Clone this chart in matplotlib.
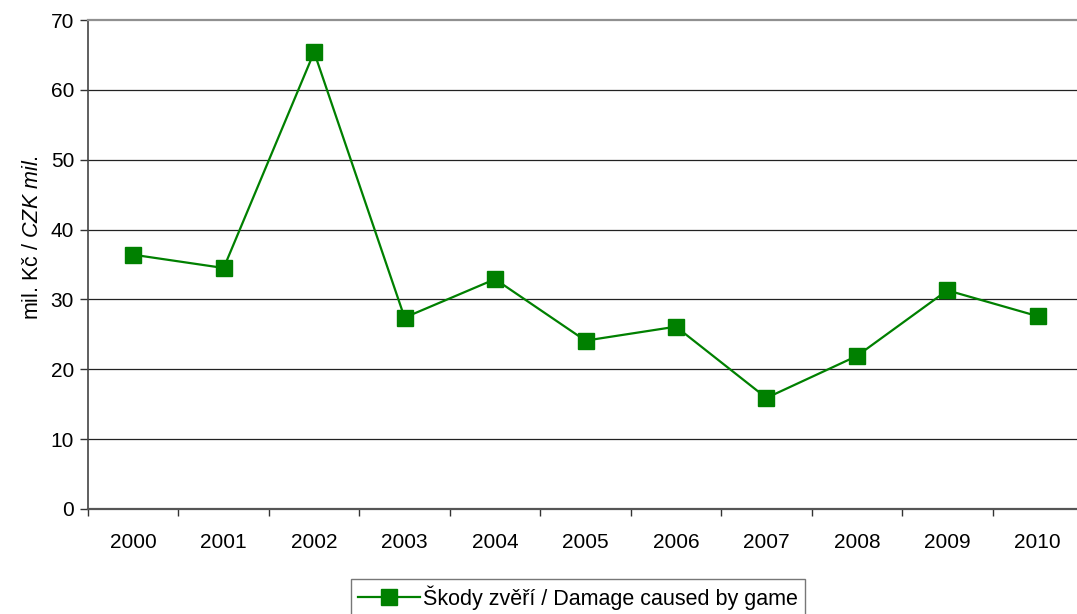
import matplotlib
matplotlib.use("Agg")
import matplotlib.pyplot as plt

plt.rcParams["font.family"] = ["Liberation Sans", "DejaVu Sans"]
plt.rcParams["mathtext.fontset"] = "custom"
plt.rcParams["mathtext.rm"] = "Liberation Sans"
plt.rcParams["mathtext.it"] = "Liberation Sans:italic"

years = ["2000", "2001", "2002", "2003", "2004", "2005",
         "2006", "2007", "2008", "2009", "2010"]
damage = [36.4, 34.5, 65.4, 27.4, 32.9, 24.1, 26.1, 15.9, 21.9, 31.3, 27.6]
yticks = [0, 10, 20, 30, 40, 50, 60, 70]

fig = plt.figure(figsize=(10.77, 6.14), dpi=100)
# plot area runs slightly past the right edge, as in the original
ax = fig.add_axes([88 / 1077, 1 - 509 / 614, 995 / 1077, 489 / 614])

x = list(range(len(years)))
ax.plot(x, damage, color="#008000", linewidth=1.6, marker="s",
        markersize=11.5, markerfacecolor="#008000", markeredgecolor="#008000",
        label="Škody zvěří / Damage caused by game", zorder=3)

ax.set_xlim(-0.5, len(years) - 0.5)
ax.set_ylim(0, 70)
ax.set_yticks(yticks)
ax.set_yticklabels([str(v) for v in yticks], fontsize=15)
ax.set_xticks(x)
ax.set_xticklabels(years, fontsize=15)
ax.set_xticks([i - 0.5 for i in range(len(years) + 1)], minor=True)
ax.tick_params(axis="x", which="major", length=0, pad=17)
ax.tick_params(axis="x", which="minor", length=5, width=1, color="#333333")
ax.tick_params(axis="y", length=6, width=1, color="#333333", pad=4)

for v in yticks[1:-1]:
    ax.axhline(v, color="#222222", linewidth=0.9, zorder=1)

ax.spines["right"].set_visible(False)
ax.spines["top"].set_color("#909090")
ax.spines["top"].set_linewidth(1.6)
ax.spines["left"].set_color("#444444")
ax.spines["left"].set_linewidth(1.2)
ax.spines["bottom"].set_color("#555555")
ax.spines["bottom"].set_linewidth(1.6)

ax.set_ylabel(r"mil. Kč / $\it{CZK\ mil.}$", fontsize=15.5)
ax.yaxis.set_label_coords(-0.045, 0.556)

leg = fig.legend(loc="lower center", bbox_to_anchor=(578 / 1077, -0.004),
                 fontsize=15.5, frameon=True, fancybox=False,
                 handlelength=2.9, handletextpad=0.15, borderpad=0.3,
                 borderaxespad=0)
leg.get_frame().set_edgecolor("#555555")
leg.get_frame().set_linewidth(1.0)

fig.savefig("out.png", dpi=100)
